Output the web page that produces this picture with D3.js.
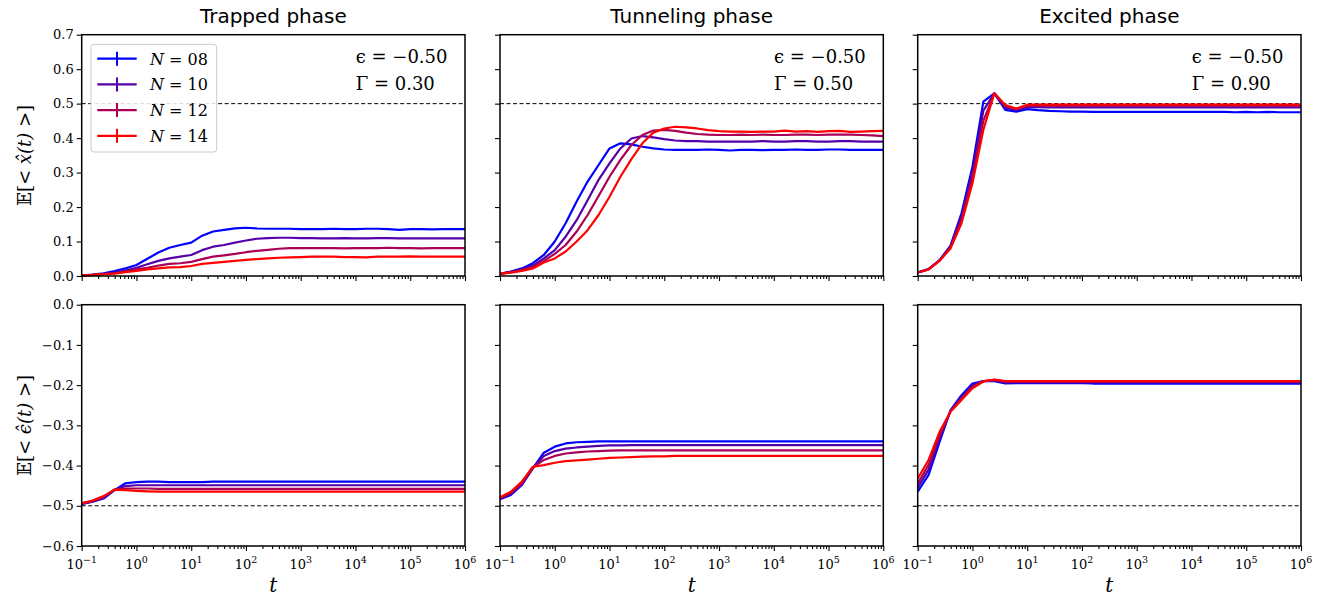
<!DOCTYPE html>
<html>
<head>
<meta charset="utf-8">
<script src="https://cdn.jsdelivr.net/npm/d3@7"></script>
<style>
body { margin: 0; background: white; }
</style>
</head>
<body>
<svg id="chart" width="1332" height="600"></svg>
<script>
// time grid (5 points per decade, 1e-1 .. 1e6)
const tGrid = [0.1, 0.158, 0.251, 0.398, 0.631, 1, 1.58, 2.51, 3.98, 6.31,
    10, 15.8, 25.1, 39.8, 63.1, 100, 158, 251, 398, 631,
    1000, 1580, 2510, 3980, 6310, 1e4, 1.58e4, 2.51e4, 3.98e4, 6.31e4,
    1e5, 1.58e5, 2.51e5, 3.98e5, 6.31e5, 1e6];

const sizeLabels = ["08", "10", "12", "14"];
const lineColors = ["#0000ff", "#5500aa", "#aa0055", "#ff0000"];
const phaseTitles = ["Trapped phase", "Tunneling phase", "Excited phase"];
const epsilonText = ["\u22120.50", "\u22120.50", "\u22120.50"];
const gammaText = ["0.30", "0.50", "0.90"];

const xTicks = [1e-1, 1e0, 1e1, 1e2, 1e3, 1e4, 1e5, 1e6];
const xTickExp = ["\u22121", "0", "1", "2", "3", "4", "5", "6"];
const yTicksTop = [0.0, 0.1, 0.2, 0.3, 0.4, 0.5, 0.6, 0.7];
const yTicksBottom = [-0.6, -0.5, -0.4, -0.3, -0.2, -0.1, 0.0];

// E[<x(t)>], trapped phase (N = 08, 10, 12, 14)
const xTrapped = [
    [0.002, 0.004, 0.008, 0.014, 0.022, 0.032, 0.050, 0.068, 0.082, 0.090, 0.097, 0.117, 0.129, 0.134, 0.138, 0.140, 0.138, 0.137, 0.137, 0.137, 0.136, 0.136, 0.136, 0.137, 0.136, 0.136, 0.137, 0.137, 0.136, 0.134, 0.136, 0.136, 0.135, 0.136, 0.136, 0.136],
    [0.002, 0.003, 0.006, 0.010, 0.016, 0.024, 0.034, 0.044, 0.051, 0.056, 0.061, 0.075, 0.085, 0.090, 0.097, 0.103, 0.108, 0.110, 0.111, 0.111, 0.110, 0.110, 0.109, 0.109, 0.110, 0.109, 0.109, 0.110, 0.110, 0.109, 0.109, 0.109, 0.109, 0.109, 0.109, 0.109],
    [0.002, 0.003, 0.005, 0.008, 0.013, 0.019, 0.024, 0.030, 0.035, 0.037, 0.041, 0.049, 0.056, 0.060, 0.064, 0.069, 0.073, 0.076, 0.079, 0.081, 0.081, 0.081, 0.081, 0.081, 0.080, 0.081, 0.081, 0.081, 0.082, 0.081, 0.081, 0.080, 0.081, 0.081, 0.081, 0.081],
    [0.002, 0.003, 0.005, 0.007, 0.011, 0.015, 0.019, 0.022, 0.025, 0.026, 0.029, 0.035, 0.038, 0.041, 0.044, 0.047, 0.049, 0.051, 0.053, 0.054, 0.055, 0.056, 0.056, 0.056, 0.055, 0.055, 0.054, 0.056, 0.056, 0.056, 0.057, 0.056, 0.056, 0.056, 0.056, 0.056]
];

// E[<x(t)>], tunneling phase
const xTunneling = [
    [0.006, 0.013, 0.022, 0.037, 0.061, 0.100, 0.153, 0.216, 0.274, 0.322, 0.370, 0.385, 0.382, 0.375, 0.370, 0.367, 0.366, 0.366, 0.366, 0.367, 0.366, 0.364, 0.366, 0.366, 0.365, 0.366, 0.366, 0.367, 0.366, 0.366, 0.367, 0.367, 0.366, 0.366, 0.366, 0.366],
    [0.006, 0.012, 0.019, 0.030, 0.051, 0.075, 0.114, 0.162, 0.220, 0.279, 0.327, 0.370, 0.399, 0.406, 0.402, 0.397, 0.393, 0.391, 0.391, 0.390, 0.390, 0.390, 0.390, 0.390, 0.391, 0.390, 0.390, 0.391, 0.391, 0.390, 0.390, 0.391, 0.391, 0.390, 0.390, 0.390],
    [0.006, 0.011, 0.017, 0.026, 0.044, 0.064, 0.090, 0.129, 0.177, 0.232, 0.288, 0.337, 0.380, 0.409, 0.422, 0.424, 0.421, 0.416, 0.412, 0.410, 0.409, 0.409, 0.410, 0.409, 0.410, 0.409, 0.409, 0.410, 0.410, 0.409, 0.410, 0.410, 0.410, 0.409, 0.408, 0.406],
    [0.006, 0.010, 0.015, 0.022, 0.039, 0.051, 0.071, 0.100, 0.133, 0.177, 0.230, 0.288, 0.339, 0.385, 0.416, 0.428, 0.433, 0.431, 0.428, 0.423, 0.420, 0.419, 0.419, 0.418, 0.419, 0.419, 0.422, 0.419, 0.420, 0.418, 0.420, 0.421, 0.418, 0.419, 0.420, 0.421]
];

// E[<x(t)>], excited phase
const xExcited = [
    [0.010, 0.020, 0.046, 0.088, 0.182, 0.317, 0.506, 0.530, 0.482, 0.477, 0.484, 0.481, 0.479, 0.478, 0.477, 0.477, 0.476, 0.476, 0.476, 0.476, 0.476, 0.476, 0.476, 0.476, 0.476, 0.476, 0.476, 0.476, 0.476, 0.475, 0.476, 0.475, 0.476, 0.475, 0.475, 0.475],
    [0.010, 0.020, 0.045, 0.086, 0.173, 0.300, 0.480, 0.530, 0.488, 0.482, 0.490, 0.490, 0.489, 0.489, 0.489, 0.489, 0.489, 0.489, 0.489, 0.489, 0.489, 0.489, 0.489, 0.489, 0.489, 0.489, 0.489, 0.489, 0.489, 0.489, 0.489, 0.489, 0.489, 0.489, 0.489, 0.489],
    [0.010, 0.019, 0.045, 0.083, 0.163, 0.285, 0.450, 0.530, 0.492, 0.484, 0.494, 0.494, 0.494, 0.494, 0.494, 0.494, 0.494, 0.494, 0.494, 0.494, 0.494, 0.494, 0.494, 0.494, 0.494, 0.494, 0.494, 0.494, 0.494, 0.494, 0.494, 0.494, 0.494, 0.494, 0.494, 0.494],
    [0.010, 0.019, 0.044, 0.080, 0.153, 0.269, 0.424, 0.530, 0.496, 0.486, 0.497, 0.497, 0.497, 0.497, 0.497, 0.497, 0.497, 0.497, 0.497, 0.497, 0.497, 0.497, 0.497, 0.497, 0.497, 0.497, 0.497, 0.497, 0.497, 0.497, 0.497, 0.497, 0.497, 0.497, 0.497, 0.497]
];

// E[<eps(t)>], trapped phase
const eTrapped = [
    [-0.496, -0.490, -0.482, -0.461, -0.444, -0.441, -0.440, -0.440, -0.441, -0.441, -0.441, -0.441, -0.440, -0.440, -0.440, -0.440, -0.440, -0.440, -0.440, -0.440, -0.440, -0.440, -0.440, -0.440, -0.440, -0.440, -0.440, -0.440, -0.440, -0.440, -0.440, -0.440, -0.440, -0.440, -0.440, -0.440],
    [-0.495, -0.489, -0.480, -0.460, -0.451, -0.449, -0.449, -0.449, -0.449, -0.449, -0.449, -0.449, -0.449, -0.449, -0.449, -0.449, -0.449, -0.449, -0.449, -0.449, -0.449, -0.449, -0.449, -0.449, -0.449, -0.449, -0.449, -0.449, -0.449, -0.449, -0.449, -0.449, -0.449, -0.449, -0.449, -0.449],
    [-0.494, -0.488, -0.478, -0.460, -0.457, -0.457, -0.457, -0.458, -0.458, -0.458, -0.458, -0.458, -0.458, -0.458, -0.458, -0.458, -0.458, -0.458, -0.458, -0.458, -0.458, -0.458, -0.458, -0.458, -0.458, -0.458, -0.458, -0.458, -0.458, -0.458, -0.458, -0.458, -0.458, -0.458, -0.458, -0.458],
    [-0.494, -0.487, -0.476, -0.460, -0.461, -0.463, -0.464, -0.465, -0.465, -0.465, -0.465, -0.465, -0.465, -0.465, -0.465, -0.465, -0.465, -0.465, -0.465, -0.465, -0.465, -0.465, -0.465, -0.465, -0.465, -0.465, -0.465, -0.465, -0.465, -0.465, -0.465, -0.465, -0.465, -0.465, -0.465, -0.465]
];

// E[<eps(t)>], tunneling phase
const eTunneling = [
    [-0.484, -0.473, -0.448, -0.407, -0.368, -0.353, -0.345, -0.342, -0.341, -0.340, -0.340, -0.340, -0.340, -0.340, -0.340, -0.340, -0.340, -0.340, -0.340, -0.340, -0.340, -0.340, -0.340, -0.340, -0.340, -0.340, -0.340, -0.340, -0.340, -0.340, -0.340, -0.340, -0.340, -0.340, -0.340, -0.340],
    [-0.482, -0.470, -0.446, -0.406, -0.376, -0.364, -0.358, -0.355, -0.353, -0.351, -0.350, -0.350, -0.349, -0.349, -0.349, -0.349, -0.349, -0.349, -0.349, -0.349, -0.349, -0.349, -0.349, -0.349, -0.349, -0.349, -0.349, -0.349, -0.349, -0.349, -0.349, -0.349, -0.349, -0.349, -0.349, -0.349],
    [-0.481, -0.468, -0.443, -0.405, -0.386, -0.376, -0.370, -0.367, -0.365, -0.364, -0.363, -0.362, -0.362, -0.362, -0.362, -0.362, -0.362, -0.362, -0.362, -0.362, -0.362, -0.362, -0.362, -0.362, -0.362, -0.362, -0.362, -0.362, -0.362, -0.362, -0.362, -0.362, -0.362, -0.362, -0.362, -0.362],
    [-0.479, -0.465, -0.440, -0.403, -0.399, -0.393, -0.389, -0.387, -0.385, -0.383, -0.381, -0.380, -0.379, -0.378, -0.377, -0.377, -0.376, -0.376, -0.376, -0.376, -0.376, -0.376, -0.376, -0.376, -0.376, -0.376, -0.376, -0.376, -0.376, -0.376, -0.376, -0.376, -0.376, -0.376, -0.376, -0.376]
];

// E[<eps(t)>], excited phase
const eExcited = [
    [-0.465, -0.423, -0.341, -0.262, -0.225, -0.196, -0.190, -0.190, -0.196, -0.195, -0.195, -0.195, -0.195, -0.195, -0.195, -0.195, -0.196, -0.196, -0.196, -0.196, -0.196, -0.196, -0.196, -0.196, -0.196, -0.196, -0.196, -0.196, -0.196, -0.196, -0.196, -0.196, -0.196, -0.196, -0.196, -0.196],
    [-0.455, -0.410, -0.332, -0.264, -0.230, -0.201, -0.190, -0.188, -0.193, -0.193, -0.193, -0.193, -0.193, -0.193, -0.193, -0.193, -0.193, -0.193, -0.193, -0.193, -0.193, -0.193, -0.193, -0.193, -0.193, -0.193, -0.193, -0.193, -0.193, -0.193, -0.193, -0.193, -0.193, -0.193, -0.193, -0.193],
    [-0.445, -0.398, -0.324, -0.265, -0.233, -0.204, -0.190, -0.187, -0.191, -0.191, -0.191, -0.191, -0.191, -0.191, -0.191, -0.191, -0.191, -0.191, -0.191, -0.191, -0.191, -0.191, -0.191, -0.191, -0.191, -0.191, -0.191, -0.191, -0.191, -0.191, -0.191, -0.191, -0.191, -0.191, -0.191, -0.191],
    [-0.432, -0.386, -0.316, -0.266, -0.237, -0.208, -0.191, -0.186, -0.190, -0.190, -0.190, -0.190, -0.190, -0.190, -0.190, -0.190, -0.190, -0.190, -0.190, -0.190, -0.190, -0.190, -0.190, -0.190, -0.190, -0.190, -0.190, -0.190, -0.190, -0.190, -0.190, -0.190, -0.190, -0.190, -0.190, -0.190]
];

const colLeft = [81.7, 500, 917.7];
const rowTop = [34.7, 304.7];
const panelW = 383.3, panelH = 241.3;
const serif = "'DejaVu Serif', serif";

const svg = d3.select("#chart");

// minor tick positions for the log axis
var minorTicks = [];
for (let k = -1; k < 6; k++) {
    for (let m = 2; m < 10; m++) minorTicks.push(m * Math.pow(10, k));
}

function drawPanel(col, row, series, refLine) {
    const left = colLeft[col], top = rowTop[row];
    const x = d3.scaleLog().domain([0.1, 1e6]).range([left, left + panelW]);
    const y = d3.scaleLinear()
        .domain(row == 0 ? [0, 0.7] : [-0.6, 0])
        .range([top + panelH, top]);
    const g = svg.append("g");

    // dashed reference line
    g.append("line")
        .attr("x1", left).attr("x2", left + panelW)
        .attr("y1", y(refLine)).attr("y2", y(refLine))
        .attr("stroke", "black").attr("stroke-width", 1)
        .attr("stroke-dasharray", "4,2.5");

    const line = d3.line()
        .x((d, i) => x(tGrid[i]))
        .y(d => y(d));

    series.forEach((s, k) => {
        g.append("path")
            .datum(s)
            .attr("d", line)
            .attr("fill", "none")
            .attr("stroke", lineColors[k])
            .attr("stroke-width", 2.2)
            .attr("stroke-linejoin", "round");
    });

    // x axis: major + minor ticks
    g.append("g")
        .attr("transform", `translate(0, ${top + panelH})`)
        .call(d3.axisBottom(x).tickValues(xTicks).tickSize(5).tickFormat(""));
    g.append("g")
        .attr("transform", `translate(0, ${top + panelH})`)
        .call(d3.axisBottom(x).tickValues(minorTicks).tickSize(3).tickFormat(""));

    if (row == 1) {
        xTicks.forEach((v, i) => {
            const txt = g.append("text")
                .attr("x", x(v))
                .attr("y", top + panelH + 23)
                .attr("text-anchor", "middle")
                .style("font-family", serif)
                .style("font-size", "13px");
            txt.append("tspan").text("10");
            txt.append("tspan")
                .attr("dy", -6)
                .style("font-size", "9.5px")
                .text(xTickExp[i]);
        });
        g.append("text")
            .attr("x", left + panelW / 2)
            .attr("y", 592)
            .attr("text-anchor", "middle")
            .style("font-family", serif)
            .style("font-style", "italic")
            .style("font-size", "20px")
            .text("t");
    }

    // y axis
    const yTicks = row == 0 ? yTicksTop : yTicksBottom;
    g.append("g")
        .attr("transform", `translate(${left}, 0)`)
        .call(d3.axisLeft(y).tickValues(yTicks).tickSize(5)
            .tickFormat(col == 0 ? (d => d3.format(".1f")(d).replace("-", "\u2212")) : ""))
        .call(a => a.selectAll("text")
            .attr("x", -8)
            .style("font-family", serif)
            .style("font-size", "13px"));

    g.selectAll(".domain").remove();
    g.selectAll(".tick line").attr("stroke-width", 1.1);

    // frame
    g.append("rect")
        .attr("x", left).attr("y", top)
        .attr("width", panelW).attr("height", panelH)
        .attr("fill", "none")
        .attr("stroke", "black")
        .attr("stroke-width", 1.5);

    if (row == 0) {
        g.append("text")
            .attr("x", left + panelW / 2)
            .attr("y", 23)
            .attr("text-anchor", "middle")
            .style("font-family", "'DejaVu Sans', sans-serif")
            .style("font-size", "20px")
            .text(phaseTitles[col]);

        const ann = g.append("g")
            .style("font-family", serif)
            .style("font-size", "18px");
        ann.append("text")
            .attr("x", left + 274).attr("y", 63)
            .text("\u03F5 = " + epsilonText[col]);
        ann.append("text")
            .attr("x", left + 274).attr("y", 90)
            .text("\u0393 = " + gammaText[col]);
    }
}

drawPanel(0, 0, xTrapped, 0.5);
drawPanel(1, 0, xTunneling, 0.5);
drawPanel(2, 0, xExcited, 0.5);
drawPanel(0, 1, eTrapped, -0.5);
drawPanel(1, 1, eTunneling, -0.5);
drawPanel(2, 1, eExcited, -0.5);

// legend
const legend = svg.append("g");
legend.append("rect")
    .attr("x", 91).attr("y", 44.3)
    .attr("width", 125.7).attr("height", 107.7)
    .attr("rx", 3)
    .attr("fill", "white").attr("fill-opacity", 0.85)
    .attr("stroke", "#cccccc").attr("stroke-width", 1);
sizeLabels.forEach((lab, i) => {
    const ly = 58.7 + i * 25.7;
    legend.append("line")
        .attr("x1", 97.3).attr("x2", 136.7)
        .attr("y1", ly).attr("y2", ly)
        .attr("stroke", lineColors[i]).attr("stroke-width", 2.2);
    legend.append("line")
        .attr("x1", 117).attr("x2", 117)
        .attr("y1", ly - 7).attr("y2", ly + 7)
        .attr("stroke", lineColors[i]).attr("stroke-width", 2);
    const txt = legend.append("text")
        .attr("x", 150).attr("y", ly + 6)
        .style("font-family", serif)
        .style("font-size", "16px");
    txt.append("tspan").style("font-style", "italic").text("N");
    txt.append("tspan").text(" = " + lab);
});

// y labels
const yLabels = [
    { row: 0, v: "x\u0302" },
    { row: 1, v: "\u03F5\u0302" }
];
yLabels.forEach(d => {
    const cy = rowTop[d.row] + panelH / 2;
    const txt = svg.append("text")
        .attr("transform", `translate(31, ${cy}) rotate(-90)`)
        .attr("text-anchor", "middle")
        .style("font-family", "'DejaVu Serif', 'DejaVu Sans', serif")
        .style("font-size", "18px");
    txt.append("tspan").text("\uD835\uDD3C[< ");
    txt.append("tspan").style("font-style", "italic").text(d.v + "(t)");
    txt.append("tspan").text(" >]");
});
</script>
</body>
</html>
